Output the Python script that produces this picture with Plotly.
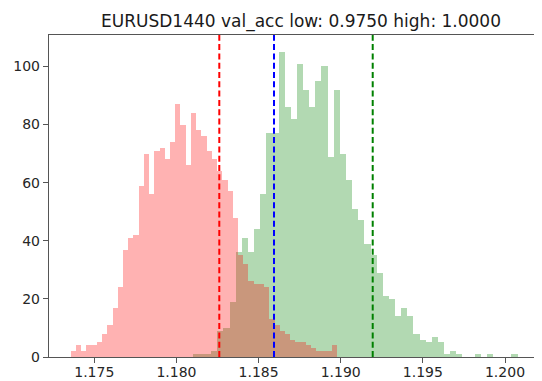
import plotly.graph_objects as go

# ---- data ----
red_counts = [2, 4, 2, 4, 4, 5, 8, 11, 17, 24, 37, 41, 42, 59, 70, 56, 71, 72, 68, 74,
              87, 80, 66, 84, 78, 76, 71, 68, 64, 61, 57, 48, 35, 32, 26, 25, 25, 24, 13, 11,
              9, 8, 6, 5, 5, 4, 3, 2, 2, 2, 4]
red_first_edge = 1.173563
red_last_edge = 1.189792

green_counts = [1, 1, 1, 2, 9, 10, 19, 36, 41, 36, 44, 56, 77, 77,
                105, 86, 82, 101, 92, 86, 95, 100, 69, 92, 70, 61, 51, 47, 39,
                35, 29, 21, 20, 14, 17, 14, 8, 6, 5, 7, 5, 1, 2, 1, 0, 0, 1, 0, 1, 0, 0, 0, 1]
green_first_edge = 1.180996
green_last_edge = 1.200766

vlines = [1.182609, 1.185939, 1.191947]
vline_colors = ["red", "blue", "green"]

x_ticks = [1.175, 1.180, 1.185, 1.190, 1.195, 1.200]
y_ticks = [0, 20, 40, 60, 80, 100]
title_text = "EURUSD1440 val_acc low: 0.9750 high: 1.0000"


def edges(first, last, n):
    w = (last - first) / n
    return [first + i * w for i in range(n)], w


red_x, red_w = edges(red_first_edge, red_last_edge, len(red_counts))
green_x, green_w = edges(green_first_edge, green_last_edge, len(green_counts))

fig = go.Figure()
fig.add_trace(go.Bar(x=green_x, y=green_counts, width=green_w, offset=0,
                     marker=dict(color="rgba(0,128,0,0.3)", line=dict(width=0)),
                     showlegend=False))
fig.add_trace(go.Bar(x=red_x, y=red_counts, width=red_w, offset=0,
                     marker=dict(color="rgba(255,0,0,0.3)", line=dict(width=0)),
                     showlegend=False))

for v, c in zip(vlines, vline_colors):
    fig.add_shape(type="line", x0=v, x1=v, y0=0, y1=1, xref="x", yref="paper",
                  line=dict(color=c, width=2, dash="6px,3.3px"), layer="above")

# the page body has an 8px margin, so the figure is 8px smaller than the window
W, H = 534, 373
font = "DejaVu Sans, sans-serif"
fig.update_layout(
    width=W, height=H,
    margin=dict(l=41, r=1, t=27, b=24),
    paper_bgcolor="white", plot_bgcolor="white",
    barmode="overlay", bargap=0,
    font=dict(family=font, size=14, color="#262626"),
    title=dict(text=title_text, x=293 / W, xanchor="center", xref="container",
               y=1 - 13 / H, yanchor="middle", yref="container",
               font=dict(family=font, size=17, color="#1a1a1a")),
    xaxis=dict(range=[1.172243, 1.202191], tickvals=x_ticks,
               ticktext=[f"{t:.3f}" for t in x_ticks], automargin=False,
               showgrid=False, zeroline=False, showline=True, mirror=True,
               linecolor="#555", linewidth=1.4, ticks="outside", ticklen=5,
               tickwidth=1.2, tickcolor="#555", ticklabelstandoff=-3),
    yaxis=dict(range=[0, 110.83], tickvals=y_ticks,
               ticktext=[str(t) for t in y_ticks], automargin=False,
               showgrid=False, zeroline=False, showline=True, mirror=True,
               linecolor="#555", linewidth=1.4, ticks="outside", ticklen=5,
               tickwidth=1.2, tickcolor="#555"),
)

fig.write_html("out.html")
